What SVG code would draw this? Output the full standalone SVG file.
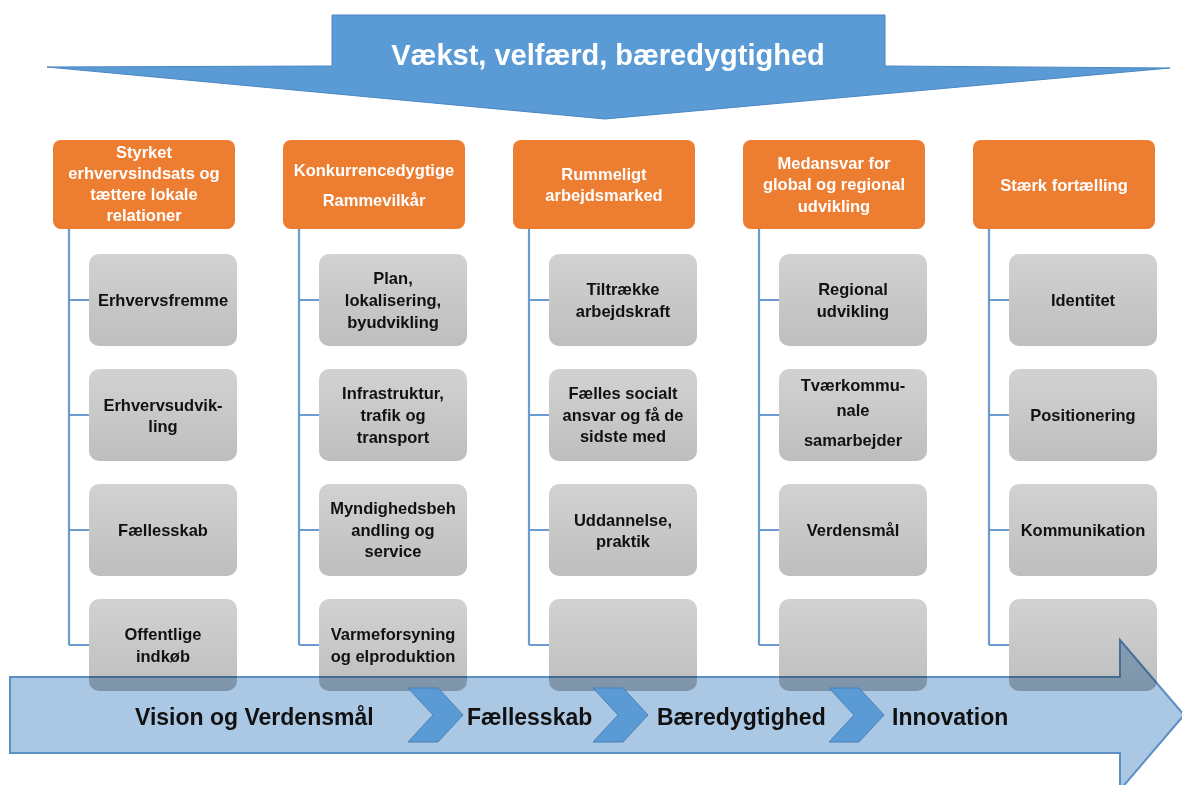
<svg xmlns="http://www.w3.org/2000/svg" width="1182" height="785" viewBox="0 0 1182 785">
<defs>
<linearGradient id="gg" x1="0" y1="0" x2="0" y2="1">
<stop offset="0" stop-color="#D2D2D2"/>
<stop offset="1" stop-color="#BEBEBE"/>
</linearGradient>
<style>
.hdr rect{fill:#ED7D31;}
.hdr text{fill:#FFFFFF;font-family:"Liberation Sans",Arial,sans-serif;font-weight:bold;font-size:16.5px;text-anchor:middle;}
.itm rect{fill:url(#gg);}
.itm text{fill:#111111;font-family:"Liberation Sans",Arial,sans-serif;font-weight:bold;font-size:16.5px;text-anchor:middle;}
.conn path{fill:none;stroke:#6A9CD2;stroke-width:2.2;}
.chev{fill:#5B9BD5;stroke:#4A80B8;stroke-width:1;}
.btxt{fill:#111111;font-family:"Liberation Sans",Arial,sans-serif;font-weight:bold;font-size:23px;}
</style>
</defs>
<rect width="1182" height="785" fill="#FFFFFF"/>

<g id="top-arrow">
<polygon points="332,15 885,15 885,66 1170,68 605,119 47,67 332,66" fill="#5B9BD5" stroke="#4A86C2" stroke-width="1"/>
<text x="608" y="65" fill="#FFFFFF" font-family="'Liberation Sans',Arial,sans-serif" font-weight="bold" font-size="29" text-anchor="middle">Vækst, velfærd, bæredygtighed</text>
</g>

<g id="connectors" class="conn">
<path d="M69,229 V645 M69,300 H89 M69,415 H89 M69,530 H89 M69,645 H89"/>
<path d="M299,229 V645 M299,300 H319 M299,415 H319 M299,530 H319 M299,645 H319"/>
<path d="M529,229 V645 M529,300 H549 M529,415 H549 M529,530 H549 M529,645 H549"/>
<path d="M759,229 V645 M759,300 H779 M759,415 H779 M759,530 H779 M759,645 H779"/>
<path d="M989,229 V645 M989,300 H1009 M989,415 H1009 M989,530 H1009 M989,645 H1009"/>
</g>

<g id="h1" class="hdr"><rect x="53" y="140" width="182" height="89" rx="8"/>
<text x="144" y="158">Styrket</text><text x="144" y="179">erhvervsindsats og</text><text x="144" y="200">tættere lokale</text><text x="144" y="221">relationer</text></g>
<g id="h2" class="hdr"><rect x="283" y="140" width="182" height="89" rx="8"/>
<text x="374" y="176">Konkurrencedygtige</text><text x="374" y="206">Rammevilkår</text></g>
<g id="h3" class="hdr"><rect x="513" y="140" width="182" height="89" rx="8"/>
<text x="604" y="180">Rummeligt</text><text x="604" y="201">arbejdsmarked</text></g>
<g id="h4" class="hdr"><rect x="743" y="140" width="182" height="89" rx="8"/>
<text x="834" y="169">Medansvar for</text><text x="834" y="190">global og regional</text><text x="834" y="212">udvikling</text></g>
<g id="h5" class="hdr"><rect x="973" y="140" width="182" height="89" rx="8"/>
<text x="1064" y="191">Stærk fortælling</text></g>

<g id="c1r1" class="itm"><rect x="89" y="254" width="148" height="92" rx="10"/><text x="163" y="306">Erhvervsfremme</text></g>
<g id="c1r2" class="itm"><rect x="89" y="369" width="148" height="92" rx="10"/><text x="163" y="411">Erhvervsudvik-</text><text x="163" y="432">ling</text></g>
<g id="c1r3" class="itm"><rect x="89" y="484" width="148" height="92" rx="10"/><text x="163" y="536">Fællesskab</text></g>
<g id="c1r4" class="itm"><rect x="89" y="599" width="148" height="92" rx="10"/><text x="163" y="640">Offentlige</text><text x="163" y="662">indkøb</text></g>

<g id="c2r1" class="itm"><rect x="319" y="254" width="148" height="92" rx="10"/><text x="393" y="284">Plan,</text><text x="393" y="306">lokalisering,</text><text x="393" y="328">byudvikling</text></g>
<g id="c2r2" class="itm"><rect x="319" y="369" width="148" height="92" rx="10"/><text x="393" y="399">Infrastruktur,</text><text x="393" y="421">trafik og</text><text x="393" y="443">transport</text></g>
<g id="c2r3" class="itm"><rect x="319" y="484" width="148" height="92" rx="10"/><text x="393" y="514">Myndighedsbeh</text><text x="393" y="536">andling og</text><text x="393" y="557">service</text></g>
<g id="c2r4" class="itm"><rect x="319" y="599" width="148" height="92" rx="10"/><text x="393" y="640">Varmeforsyning</text><text x="393" y="662">og elproduktion</text></g>

<g id="c3r1" class="itm"><rect x="549" y="254" width="148" height="92" rx="10"/><text x="623" y="295">Tiltrække</text><text x="623" y="317">arbejdskraft</text></g>
<g id="c3r2" class="itm"><rect x="549" y="369" width="148" height="92" rx="10"/><text x="623" y="399">Fælles socialt</text><text x="623" y="421">ansvar og få de</text><text x="623" y="442">sidste med</text></g>
<g id="c3r3" class="itm"><rect x="549" y="484" width="148" height="92" rx="10"/><text x="623" y="526">Uddannelse,</text><text x="623" y="547">praktik</text></g>
<g id="c3r4" class="itm"><rect x="549" y="599" width="148" height="92" rx="10"/></g>

<g id="c4r1" class="itm"><rect x="779" y="254" width="148" height="92" rx="10"/><text x="853" y="295">Regional</text><text x="853" y="317">udvikling</text></g>
<g id="c4r2" class="itm"><rect x="779" y="369" width="148" height="92" rx="10"/><text x="853" y="391">Tværkommu-</text><text x="853" y="416">nale</text><text x="853" y="446">samarbejder</text></g>
<g id="c4r3" class="itm"><rect x="779" y="484" width="148" height="92" rx="10"/><text x="853" y="536">Verdensmål</text></g>
<g id="c4r4" class="itm"><rect x="779" y="599" width="148" height="92" rx="10"/></g>

<g id="c5r1" class="itm"><rect x="1009" y="254" width="148" height="92" rx="10"/><text x="1083" y="306">Identitet</text></g>
<g id="c5r2" class="itm"><rect x="1009" y="369" width="148" height="92" rx="10"/><text x="1083" y="421">Positionering</text></g>
<g id="c5r3" class="itm"><rect x="1009" y="484" width="148" height="92" rx="10"/><text x="1083" y="536">Kommunikation</text></g>
<g id="c5r4" class="itm"><rect x="1009" y="599" width="148" height="92" rx="10"/></g>

<g id="bottom-arrow">
<polygon points="10,677 1120,677 1120,640 1184,715 1120,790 1120,753 10,753" fill="#AAC7E3" stroke="#5C8FC4" stroke-width="2" style="mix-blend-mode:multiply"/>
<polygon class="chev" points="408,688 438,688 463,715 438,742 408,742 433,715"/>
<polygon class="chev" points="593,688 623,688 648,715 623,742 593,742 618,715"/>
<polygon class="chev" points="829,688 859,688 884,715 859,742 829,742 854,715"/>
<text class="btxt" x="135" y="725">Vision og Verdensmål</text>
<text class="btxt" x="467" y="725">Fællesskab</text>
<text class="btxt" x="657" y="725">Bæredygtighed</text>
<text class="btxt" x="892" y="725">Innovation</text>
</g>
</svg>
